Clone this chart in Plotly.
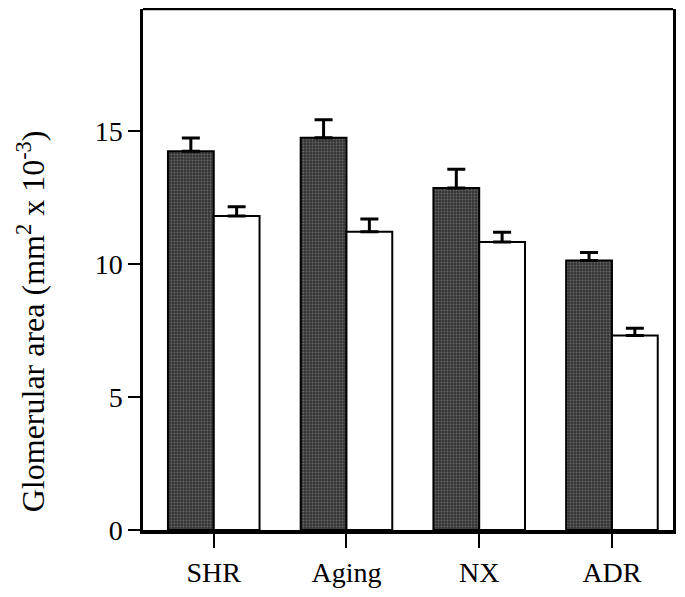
import plotly.graph_objects as go

# Glomerular area by model (mm^2 x 10^-3)
categories = ["SHR", "Aging", "NX", "ADR"]
dark_values = [14.25, 14.76, 12.87, 10.14]
dark_err = [0.50, 0.67, 0.70, 0.30]
white_values = [11.81, 11.22, 10.83, 7.32]
white_err = [0.35, 0.48, 0.37, 0.27]

y_ticks = [0, 5, 10, 15]

serif = "Liberation Serif"

fig = go.Figure()

fig.add_trace(go.Bar(
    x=categories,
    y=dark_values,
    marker=dict(
        color="#3c3c3c",
        line=dict(color="black", width=2),
        pattern=dict(shape=".", fgcolor="#9a9a9a", bgcolor="#353535", size=3, solidity=0.3),
    ),
    error_y=dict(type="data", symmetric=False, array=dark_err, arrayminus=[0] * 4,
                 color="black", thickness=3, width=9),
    showlegend=False,
))

fig.add_trace(go.Bar(
    x=categories,
    y=white_values,
    marker=dict(color="white", line=dict(color="black", width=2)),
    error_y=dict(type="data", symmetric=False, array=white_err, arrayminus=[0] * 4,
                 color="black", thickness=3, width=9),
    showlegend=False,
))

# top border of the frame
fig.add_shape(type="line", xref="paper", yref="paper", x0=0, x1=1, y0=1, y1=1,
              line=dict(color="black", width=2.5))

# y-axis title, placed a little below the plot centre as in the original
fig.add_annotation(
    text="Glomerular area (mm<sup>2</sup> x 10<sup>-3</sup>)",
    xref="paper", yref="paper", x=-0.212, y=0.40,
    xanchor="center", yanchor="middle", textangle=-90, showarrow=False,
    font=dict(family=serif, size=32, color="black"),
)

# page body adds an 8px offset, so the figure is a little smaller than the window
fig.update_layout(
    barmode="group",
    bargap=0.31,
    bargroupgap=0,
    width=669,
    height=581,
    plot_bgcolor="white",
    paper_bgcolor="white",
    margin=dict(l=135, r=2, t=1, b=58),
    font=dict(family=serif, size=28, color="black"),
    xaxis=dict(
        range=[-0.533, 3.46],
        showline=True,
        linecolor="black",
        linewidth=4,
        ticks="outside",
        ticklen=14,
        tickwidth=2,
        tickcolor="black",
        showgrid=False,
        tickfont=dict(family=serif, size=28),
    ),
    yaxis=dict(
        range=[0, 19.6],
        tickvals=y_ticks,
        showline=True,
        mirror=True,
        linecolor="black",
        linewidth=2.5,
        ticks="outside",
        ticklen=12,
        tickwidth=2,
        tickcolor="black",
        showgrid=False,
        zeroline=False,
        tickfont=dict(family=serif, size=28),
    ),
)

fig.write_html("out.html")
